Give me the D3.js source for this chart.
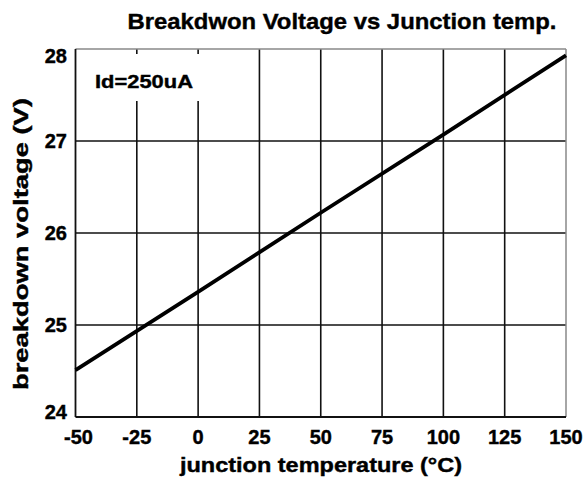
<!DOCTYPE html>
<html><head><meta charset="utf-8">
<script src="https://cdn.jsdelivr.net/npm/d3@7"></script>
<style>body{margin:0;background:#fff}svg{display:block}text{font-family:"Liberation Sans",Arial,sans-serif;font-weight:bold;fill:#000;stroke:#000;stroke-width:0.4px}</style>
</head><body>
<script>
const temps = [-50, 0, 50, 100, 150];
const voltages = [24.51, 25.36, 26.22, 27.07, 27.93];
const xTicks = [-50, -25, 0, 25, 50, 75, 100, 125, 150];
const yTicks = [24, 25, 26, 27, 28];
const title = "Breakdwon Voltage vs Junction temp.";
const xTitle = "junction temperature (°C)";
const yTitle = "breakdown voltage (V)";
const note = "Id=250uA";

const W = 585, H = 481;
const svg = d3.select("body").append("svg").attr("width", W).attr("height", H);
const x = d3.scaleLinear().domain([-50, 150]).range([75.5, 566]);
const y = d3.scaleLinear().domain([24, 28]).range([417, 49]);

// grid lines
svg.append("g").selectAll("line").data(xTicks.slice(1, -1)).join("line")
  .attr("x1", d => x(d)).attr("x2", d => x(d)).attr("y1", y(28)).attr("y2", y(24))
  .attr("stroke", "#111").attr("stroke-width", 1.6);
svg.append("g").selectAll("line").data(yTicks.slice(1, -1)).join("line")
  .attr("x1", x(-50)).attr("x2", x(150)).attr("y1", d => y(d)).attr("y2", d => y(d))
  .attr("stroke", "#111").attr("stroke-width", 1.6);

// label mask
svg.append("rect").attr("x", 88).attr("y", 54).attr("width", 118).attr("height", 47).attr("fill", "#fff");
svg.append("text").attr("x", 95).attr("y", 88).attr("font-size", 19)
  .attr("textLength", 98).attr("lengthAdjust", "spacingAndGlyphs").text(note);

// borders
svg.append("line").attr("x1", x(-50)).attr("x2", x(150)).attr("y1", y(28)).attr("y2", y(28)).attr("stroke", "#888").attr("stroke-width", 1.5);
svg.append("line").attr("x1", x(150)).attr("x2", x(150)).attr("y1", y(28)).attr("y2", y(24)).attr("stroke", "#888").attr("stroke-width", 1.5);
svg.append("line").attr("x1", x(-50)).attr("x2", x(150)).attr("y1", y(24)).attr("y2", y(24)).attr("stroke", "#111").attr("stroke-width", 1.8);
svg.append("line").attr("x1", x(-50)).attr("x2", x(-50)).attr("y1", y(28)).attr("y2", y(24)).attr("stroke", "#111").attr("stroke-width", 1.8);

// data line
svg.append("path").datum(temps.map((t, i) => [t, voltages[i]]))
  .attr("d", d3.line().x(d => x(d[0])).y(d => y(d[1])))
  .attr("fill", "none").attr("stroke", "#000").attr("stroke-width", 3.8);

// tick labels
svg.append("g").selectAll("text").data(xTicks).join("text")
  .attr("x", d => x(d) + (d === -50 ? 3 : 0)).attr("y", 444).attr("text-anchor", "middle").attr("font-size", 20)
  .text(d => d);
svg.append("g").selectAll("text").data(yTicks).join("text")
  .attr("x", 67).attr("y", d => y(d) + (d === 24 ? 2 : d === 28 ? 14 : 7)).attr("text-anchor", "end").attr("font-size", 20)
  .text(d => d);

// titles
svg.append("text").attr("x", 342).attr("y", 29).attr("text-anchor", "middle").attr("font-size", 22)
  .attr("textLength", 429).attr("lengthAdjust", "spacingAndGlyphs").text(title);
svg.append("text").attr("x", 321).attr("y", 472).attr("text-anchor", "middle").attr("font-size", 20)
  .attr("textLength", 282).attr("lengthAdjust", "spacingAndGlyphs").text(xTitle);
svg.append("text").attr("transform", "translate(28,244) rotate(-90)").attr("text-anchor", "middle").attr("font-size", 20)
  .attr("textLength", 292).attr("lengthAdjust", "spacingAndGlyphs").text(yTitle);
</script>
</body></html>
